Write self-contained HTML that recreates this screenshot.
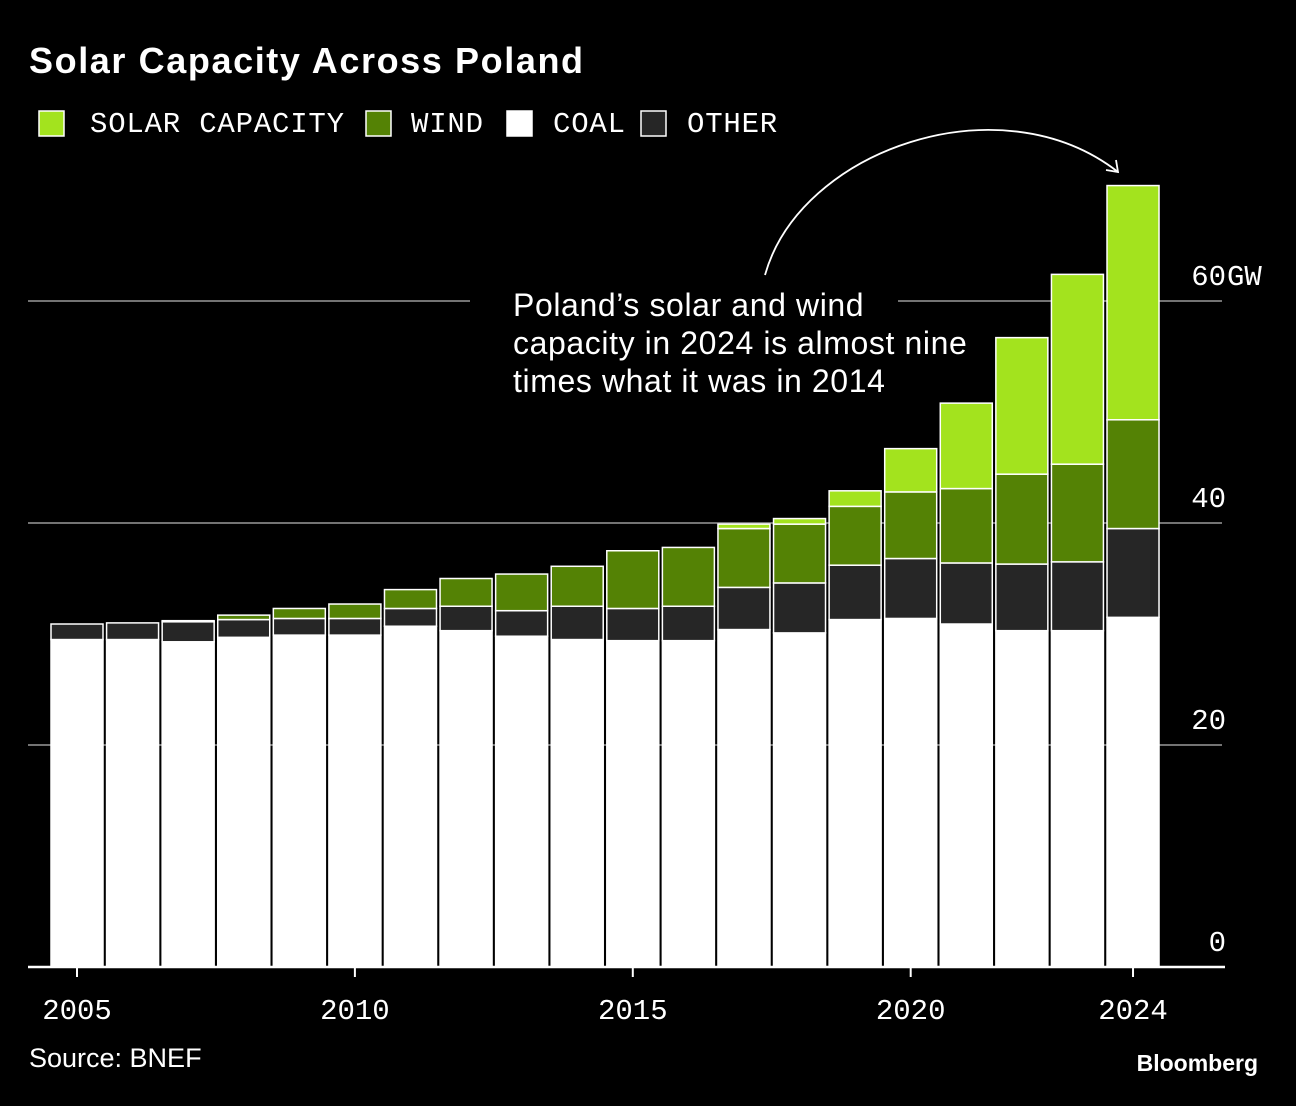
<!DOCTYPE html>
<html><head><meta charset="utf-8"><style>
body{margin:0;background:#000;width:1296px;height:1106px;overflow:hidden;font-family:"Liberation Sans",sans-serif;color:#fff}
svg{position:absolute;left:0;top:0}
</style></head><body>
<svg width="1296" height="1106">
<text x="29" y="73" font-size="36" font-weight="bold" letter-spacing="1.6" fill="#fff">Solar Capacity Across Poland</text>
<g font-family="Liberation Mono, monospace" font-size="29" letter-spacing="0.8" fill="#fff">
<rect x="39" y="111" width="25" height="25" fill="#a3e31e" stroke="#fff" stroke-width="1.5"/>
<text x="90" y="132">SOLAR CAPACITY</text>
<rect x="366" y="111" width="25" height="25" fill="#548205" stroke="#fff" stroke-width="1.5"/>
<text x="411" y="132">WIND</text>
<rect x="507" y="111" width="25" height="25" fill="#fff" stroke="#fff" stroke-width="1.5"/>
<text x="553" y="132">COAL</text>
<rect x="641" y="111" width="25" height="25" fill="#262626" stroke="#fff" stroke-width="1.5"/>
<text x="687" y="132">OTHER</text>
</g>
<g id="grid"></g>
<g id="bars"></g>
<g id="axis"></g>
<g>
<text font-size="32" letter-spacing="0.6" fill="#fff">
<tspan x="513" y="316">Poland’s solar and wind</tspan>
<tspan x="513" y="354">capacity in 2024 is almost nine</tspan>
<tspan x="513" y="392">times what it was in 2014</tspan></text>
<path d="M765 275 C 800 150, 1000 80, 1118 172" fill="none" stroke="#fff" stroke-width="1.8"/>
<path d="M1106 170 L1118 172 L1116 160" fill="none" stroke="#fff" stroke-width="1.8"/>
</g>
<text x="29" y="1067" font-size="27" fill="#fff">Source: BNEF</text>
<text x="1258" y="1071" font-size="23" font-weight="bold" fill="#fff" text-anchor="end">Bloomberg</text>
</svg>
<script>
const years=[2005,2006,2007,2008,2009,2010,2011,2012,2013,2014,2015,2016,2017,2018,2019,2020,2021,2022,2023,2024];
const coal=[29.5,29.5,29.3,29.7,29.9,29.9,30.7,30.3,29.8,29.5,29.4,29.4,30.4,30.1,31.3,31.4,30.9,30.3,30.3,31.5];
const other=[1.4,1.5,1.8,1.6,1.5,1.5,1.6,2.2,2.3,3.0,2.9,3.1,3.8,4.5,4.9,5.4,5.5,6.0,6.2,8.0];
const wind=[0,0,0.1,0.4,0.9,1.3,1.7,2.5,3.3,3.6,5.2,5.3,5.3,5.3,5.3,6.0,6.7,8.1,8.8,9.8];
const solar=[0,0,0,0,0,0,0,0,0,0,0,0,0.4,0.5,1.4,3.9,7.7,12.3,17.1,21.1];
const yTicks=[0,20,40,60];
const yTickLabels=["0","20","40","60"];
const xTicks=[2005,2010,2015,2020,2024];
const NS="http://www.w3.org/2000/svg";
const y=v=>967-v*11.1;
const x=yr=>77+(yr-2005)*55.58;
const bw=52;
function mk(tag,attrs,parent){const e=document.createElementNS(NS,tag);for(const k in attrs)e.setAttribute(k,attrs[k]);parent.appendChild(e);return e;}
const grid=document.getElementById('grid'),bars=document.getElementById('bars'),axis=document.getElementById('axis');
yTicks.forEach((t,i)=>{
 if(t>0){
  if(t===60){
   let l=mk('line',{x1:28,x2:470,y1:y(t),y2:y(t),stroke:'#999','stroke-width':1.5},grid);
   
   
   l=mk('line',{x1:898,x2:1222,y1:y(t),y2:y(t),stroke:'#999','stroke-width':1.5},grid);
   
   
  }else{
   const l=mk('line',{x1:28,x2:1222,y1:y(t),y2:y(t),stroke:'#999','stroke-width':1.5},grid);
   
   
  }
 }
 const tx=mk('text',{x:1226,y:y(t)-16,'font-family':'Liberation Mono, monospace','font-size':29,fill:'#fff','text-anchor':'end'},axis);
 tx.textContent=yTickLabels[i];
 
 
 if(i===yTicks.length-1){
  const u=mk('text',{x:1227,y:y(t)-16,'font-family':'Liberation Mono, monospace','font-size':29,fill:'#fff'},axis);
  u.textContent='GW';
  
  
 }
});
const series=[[coal,'#fff','coal'],[other,'#262626','other'],[wind,'#548205','wind'],[solar,'#a3e31e','solar']];
years.forEach((yr,i)=>{
 let base=0;
 series.forEach(([arr,col,nm])=>{
  const v=arr[i];
  if(v>0){
   const r=mk('rect',{x:x(yr)-bw/2,y:y(base+v),width:bw,height:v*11.1,fill:col,stroke:'#fff','stroke-width':1.5},bars);
   
   
  }
  base+=v;
 });
});
const ax=mk('line',{x1:28,x2:1225,y1:967,y2:967,stroke:'#fff','stroke-width':2.5},axis);


xTicks.forEach(t=>{
 const tk=mk('line',{x1:x(t),x2:x(t),y1:967,y2:977,stroke:'#fff','stroke-width':2},axis);
 
 
 const tx=mk('text',{x:x(t),y:1019,'font-family':'Liberation Mono, monospace','font-size':29,fill:'#fff','text-anchor':'middle'},axis);
 tx.textContent=t;
 
 
});
</script>
</body></html>
